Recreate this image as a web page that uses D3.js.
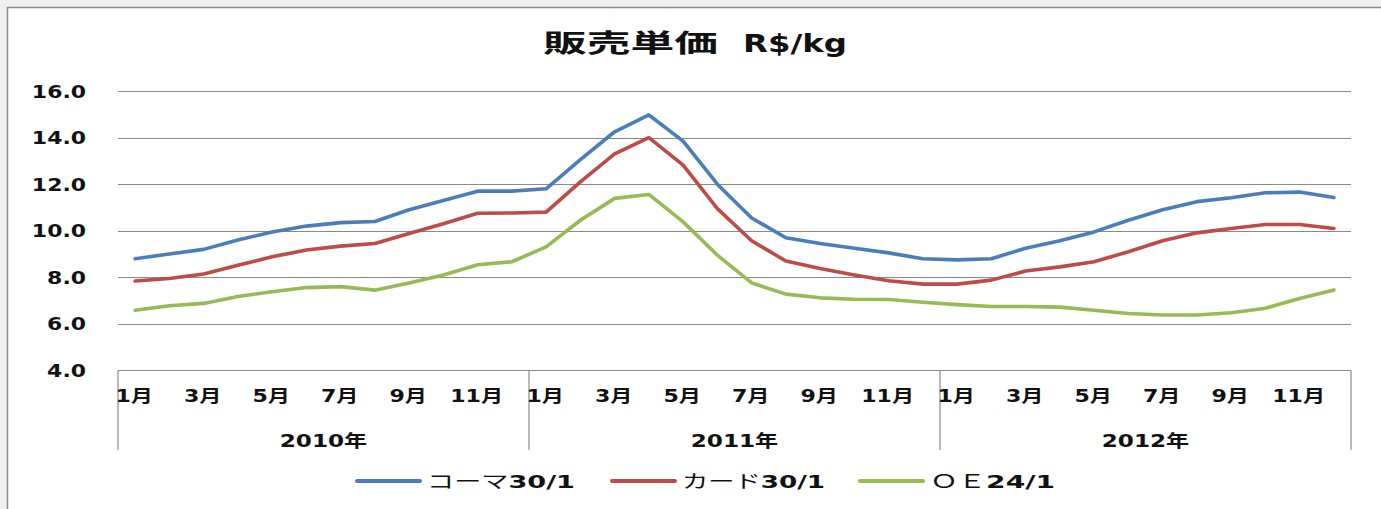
<!DOCTYPE html>
<html>
<head>
<meta charset="utf-8">
<script src="https://cdn.jsdelivr.net/npm/d3@7"></script>
<style>
  html, body { margin: 0; padding: 0; background: #efefef; }
  svg { display: block; }
</style>
</head>
<body>
<div id="chart"></div>
<script>
// data
const years = ['2010年', '2011年', '2012年'];
const months = ['1月', '2月', '3月', '4月', '5月', '6月', '7月', '8月', '9月', '10月', '11月', '12月'];
const yTicks = [4, 6, 8, 10, 12, 14, 16];

const coma30 = [8.8, 9.0, 9.2, 9.6, 9.95, 10.2, 10.35, 10.4, 10.9, 11.3, 11.7, 11.7,
                11.8, 13.05, 14.25, 14.97, 13.85, 12.0, 10.55, 9.7, 9.45, 9.25, 9.05, 8.8,
                8.75, 8.8, 9.25, 9.57, 9.95, 10.45, 10.9, 11.25, 11.42, 11.63, 11.66, 11.43];
const card30 = [7.84, 7.95, 8.14, 8.52, 8.88, 9.17, 9.34, 9.45, 9.88, 10.3, 10.75, 10.76,
                10.8, 12.1, 13.3, 14.0, 12.82, 10.95, 9.57, 8.7, 8.38, 8.1, 7.85, 7.71,
                7.71, 7.88, 8.27, 8.45, 8.67, 9.1, 9.57, 9.91, 10.1, 10.27, 10.27, 10.1];
const oe24 = [6.59, 6.78, 6.88, 7.18, 7.38, 7.56, 7.6, 7.45, 7.76, 8.1, 8.54, 8.67,
              9.31, 10.45, 11.39, 11.56, 10.38, 8.95, 7.76, 7.28, 7.12, 7.06, 7.05, 6.93,
              6.83, 6.75, 6.75, 6.72, 6.59, 6.45, 6.38, 6.38, 6.48, 6.67, 7.09, 7.46];

const seriesNames = ['コーマ30/1', 'カード30/1', 'ＯＥ24/1'];
const seriesColors = ['#4a7ebb', '#be4b48', '#98b954'];

const width = 1381, height = 509;
const margin = { top: 91, right: 30, bottom: 139, left: 118 };
const latin = "'DejaVu Sans', 'Noto Sans CJK JP', sans-serif";
const cjk = "'Noto Sans CJK JP', sans-serif";

const svg = d3.select('#chart').append('svg')
  .attr('width', width)
  .attr('height', height);

// chart frame
svg.append('rect')
  .attr('x', 7.5).attr('y', 7.5)
  .attr('width', width + 10).attr('height', height + 10)
  .attr('fill', '#fff')
  .attr('stroke', '#8c8c8c')
  .attr('stroke-width', 1.5);

const categories = d3.range(years.length * months.length);
const x = d3.scaleBand()
  .domain(categories)
  .range([margin.left, 1351]);
const y = d3.scaleLinear()
  .domain([4, 16])
  .range([370.5, margin.top]);
const cx = i => x(i) + x.bandwidth() / 2;

// gridlines
svg.append('g')
  .selectAll('line')
  .data(yTicks.filter(d => d > 4))
  .join('line')
  .attr('x1', margin.left).attr('x2', 1351)
  .attr('y1', d => Math.round(y(d)) + 0.5)
  .attr('y2', d => Math.round(y(d)) + 0.5)
  .attr('stroke', '#8a8a8a')
  .attr('stroke-width', 1);

// y labels
svg.append('g')
  .selectAll('text')
  .data(yTicks)
  .join('text')
  .attr('transform', d => `translate(86,${y(d) + 6.5}) scale(1.22,1)`)
  .attr('text-anchor', 'end')
  .attr('font-family', latin)
  .attr('font-weight', 'bold')
  .attr('font-size', 18)
  .attr('fill', '#111')
  .text(d => d.toFixed(1));

// x axis line and year dividers
const xAxis = svg.append('g').attr('stroke', '#8a8a8a').attr('stroke-width', 1.2);
xAxis.append('line')
  .attr('x1', margin.left).attr('x2', 1351)
  .attr('y1', y(4)).attr('y2', y(4));
const boundaries = d3.range(years.length + 1).map(k =>
  k < years.length ? x(k * months.length) : x(categories.length - 1) + x.bandwidth());
xAxis.selectAll('.divider')
  .data(boundaries)
  .join('line')
  .attr('class', 'divider')
  .attr('x1', d => d).attr('x2', d => d)
  .attr('y1', y(4)).attr('y2', 450);

// month labels (every second month)
svg.append('g')
  .selectAll('text')
  .data(categories.filter(i => i % 2 === 0))
  .join('text')
  .attr('transform', i => `translate(${cx(i) - 1},402) scale(1.3,1)`)
  .attr('text-anchor', 'middle')
  .attr('font-family', latin)
  .attr('font-weight', 'bold')
  .attr('font-size', 17)
  .attr('fill', '#111')
  .text(i => months[i % months.length]);

// year labels
svg.append('g')
  .selectAll('text')
  .data(years)
  .join('text')
  .attr('transform', (d, k) => `translate(${(boundaries[k] + boundaries[k + 1]) / 2},447) scale(1.36,1)`)
  .attr('text-anchor', 'middle')
  .attr('font-family', latin)
  .attr('font-weight', 'bold')
  .attr('font-size', 17)
  .attr('fill', '#111')
  .text(d => d);

// lines
const line = d3.line()
  .x((d, i) => cx(i))
  .y(d => y(d));

svg.append('g')
  .selectAll('path')
  .data([coma30, card30, oe24])
  .join('path')
  .attr('d', line)
  .attr('fill', 'none')
  .attr('stroke', (d, i) => seriesColors[i])
  .attr('stroke-width', 3.6)
  .attr('stroke-linejoin', 'round')
  .attr('stroke-linecap', 'round');

// title: two pieces with a wide gap
svg.append('text')
  .attr('x', 543).attr('y', 52)
  .attr('font-family', cjk)
  .attr('font-weight', 'bold')
  .attr('font-size', 25)
  .attr('fill', '#111')
  .attr('textLength', 175)
  .attr('lengthAdjust', 'spacingAndGlyphs')
  .text('販売単価');
svg.append('text')
  .attr('x', 743).attr('y', 52)
  .attr('font-family', latin)
  .attr('font-weight', 'bold')
  .attr('font-size', 24)
  .attr('fill', '#111')
  .attr('textLength', 104)
  .attr('lengthAdjust', 'spacingAndGlyphs')
  .text('R$/kg');

// legend
const legendX = [356, 611, 859];
const legendW = [148, 143, 125];
const legend = svg.append('g')
  .selectAll('g')
  .data(seriesNames)
  .join('g')
  .attr('transform', (d, i) => `translate(${legendX[i]},481)`);
legend.append('line')
  .attr('x1', 1).attr('x2', 64)
  .attr('stroke', (d, i) => seriesColors[i])
  .attr('stroke-width', 4)
  .attr('stroke-linecap', 'round');
const ltext = legend.append('text')
  .attr('x', 71).attr('y', 7)
  .attr('font-size', 18)
  .attr('fill', '#111')
  .attr('textLength', (d, i) => legendW[i])
  .attr('lengthAdjust', 'spacingAndGlyphs');
ltext.append('tspan')
  .attr('font-family', cjk)
  .text(d => d.match(/^[^0-9]+/)[0]);
ltext.append('tspan')
  .attr('font-family', latin)
  .attr('font-weight', 'bold')
  .text(d => d.match(/[0-9].*$/)[0]);
</script>
</body>
</html>
